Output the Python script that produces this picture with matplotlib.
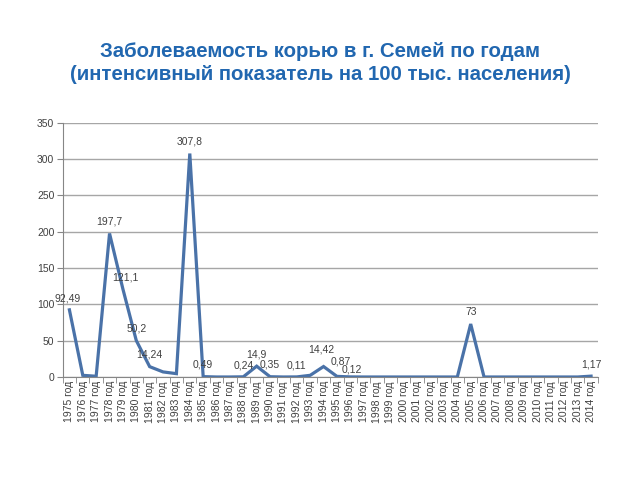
import matplotlib.pyplot as plt
import numpy as np

years = list(range(1975, 2015))
cases = [92.49, 2.3, 1.0, 197.7, 121.1, 50.2, 14.24, 7.0, 4.6, 307.8,
         0.49, 0, 0, 0.24, 14.9, 0.35, 0, 0.11, 2.3, 14.42,
         0.87, 0.12, 0, 0, 0, 0, 0, 0, 0, 0,
         73, 0, 0, 0, 0, 0, 0, 0, 0, 1.17]
labels = {1975: "92,49", 1978: "197,7", 1979: "121,1", 1980: "50,2", 1981: "14,24",
          1984: "307,8", 1985: "0,49", 1988: "0,24", 1989: "14,9", 1990: "0,35",
          1992: "0,11", 1994: "14,42", 1995: "0,87", 1996: "0,12", 2005: "73",
          2014: "1,17"}
# label offsets in points (dx, dy)
offs = {1975: (-1, 8.5), 1979: (2, 8.5), 1994: (-2, 12.5), 1995: (3, 11), 1996: (1, 5)}

plt.rcParams['font.family'] = ['Liberation Sans', 'DejaVu Sans']

fig = plt.figure(figsize=(6.4, 4.8), dpi=100)
ax = fig.add_axes([0.098, 0.2146, 0.836, 0.5294])

x = np.arange(len(years))
ax.plot(x, cases, color='#4A72A8', lw=2.3, solid_joinstyle='miter')

for i, y in enumerate(years):
    if y in labels:
        dx, dy = offs.get(y, (0, 8.5))
        ax.annotate(labels[y], (x[i], cases[i]), xytext=(dx, dy), textcoords='offset points',
                    ha='center', va='center', fontsize=7.5, color='#404040')

ax.set_xlim(-0.5, len(years) - 0.5)
ax.set_ylim(0, 350)
ax.set_yticks(range(0, 351, 50))
ax.yaxis.grid(True, color='#a6a6a6', lw=1)
ax.set_axisbelow(True)
ax.set_xticks(x)
ax.set_xticklabels([f"{y} год" for y in years], rotation=90, fontsize=7.5, color='#404040')
ax.set_xticks(np.arange(-0.5, len(years), 1), minor=True)
ax.tick_params(axis='x', which='major', length=0, pad=3)
ax.tick_params(axis='x', which='minor', length=4, color='#868686')
ax.tick_params(axis='y', length=4, color='#868686', labelsize=7.5, labelcolor='#404040', pad=2)
for s in ['top', 'right']:
    ax.spines[s].set_visible(False)
for s in ['left', 'bottom']:
    ax.spines[s].set_color('#868686')

fig.text(0.5, 0.868, "Заболеваемость корью в г. Семей по годам\n(интенсивный показатель на 100 тыс. населения)",
         ha='center', va='center', fontsize=14.7, fontweight='bold', color='#2167B0', linespacing=1.25)

fig.savefig('out.png', dpi=100)
